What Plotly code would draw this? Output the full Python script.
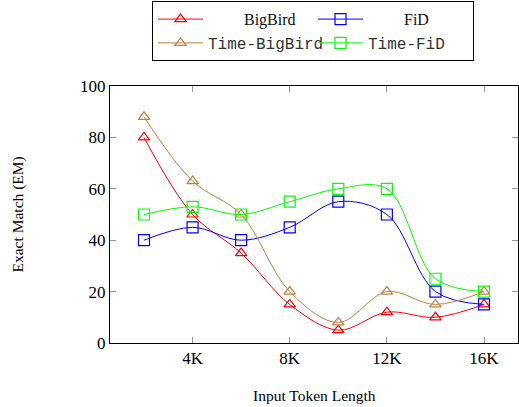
import plotly.graph_objects as go

x_k = [2, 4, 6, 8, 10, 12, 14, 16]
bigbird = [80, 50, 35, 15, 5, 12, 10, 15]
fid = [40, 45, 40, 45, 55, 50, 20, 15]
time_bigbird = [88, 63, 50, 20, 8, 20, 15, 20]
time_fid = [50, 53, 50, 55, 60, 60, 25, 20]
x_tickvals = [4, 8, 12, 16]
x_ticktext = ["4K", "8K", "12K", "16K"]
y_tickvals = [0, 20, 40, 60, 80, 100]

SERIF = "Liberation Serif, Times New Roman, serif"
MONO = "Liberation Mono, Courier New, monospace"

series = [
    ("BigBird", bigbird, "#ff0000", "triangle-up-open", SERIF),
    ("FiD", fid, "#0000ff", "square-open", SERIF),
    ("Time-BigBird", time_bigbird, "#bf8040", "triangle-up-open", MONO),
    ("Time-FiD", time_fid, "#00ff00", "square-open", MONO),
]

fig = go.Figure()
for name, ys, color, sym, fam in series:
    if fam == SERIF:
        label = "\u00a0" * 9 + f"<span style='font-family:{fam}'>{name}</span>"
    else:
        label = f"<span style='font-family:{fam};color:#333'>{name}</span>"
    fig.add_trace(go.Scatter(
        x=x_k, y=ys, mode="lines+markers",
        name=label,
        line=dict(color=color, width=1, shape="spline", smoothing=1.0),
        marker=dict(symbol=sym, size=11 if "square" in sym else 10,
                    color=color, line=dict(color=color, width=1.2)),
    ))

fig.update_layout(
    width=519, height=407,
    margin=dict(l=110, r=1, t=86, b=64, autoexpand=False),
    paper_bgcolor="white", plot_bgcolor="white",
    font=dict(family=SERIF, size=16, color="black"),
    showlegend=True,
    legend=dict(
        orientation="h", x=42 / 408, xanchor="left", y=1.33, yanchor="top",
        bordercolor="black", borderwidth=1, bgcolor="white",
        entrywidth=100, entrywidthmode="pixels", itemwidth=45,
        font=dict(family=SERIF, size=16, color="#111"),
        traceorder="normal",
    ),
    xaxis=dict(
        range=[0.6, 17.4], tickvals=x_tickvals, ticktext=x_ticktext,
        showline=True, linecolor="black", linewidth=1, mirror="allticks",
        ticks="inside", ticklen=6, tickcolor="#999", tickwidth=1,
        showgrid=False, zeroline=False, automargin=False,
        tickfont=dict(family=SERIF, size=17),
    ),
    yaxis=dict(
        range=[0, 100], tickvals=y_tickvals,
        showline=True, linecolor="black", linewidth=1, mirror="allticks",
        ticks="inside", ticklen=6, tickcolor="#999", tickwidth=1,
        showgrid=False, zeroline=False, automargin=False,
        tickfont=dict(family=SERIF, size=17),
    ),
    annotations=[
        dict(text="Input Token Length", xref="paper", yref="paper",
             x=0.5, y=-52 / 257, xanchor="center", yanchor="middle",
             showarrow=False, font=dict(family=SERIF, size=15.5)),
        dict(text="Exact Match (EM)", xref="paper", yref="paper",
             x=-93 / 408, y=0.5, xanchor="center", yanchor="middle", textangle=-90,
             showarrow=False, font=dict(family=SERIF, size=15.5)),
    ],
)

fig.write_html(
    "out.html",
    config={"displayModeBar": False},
    post_script="document.body.style.margin='0';document.body.style.padding='0';",
)
